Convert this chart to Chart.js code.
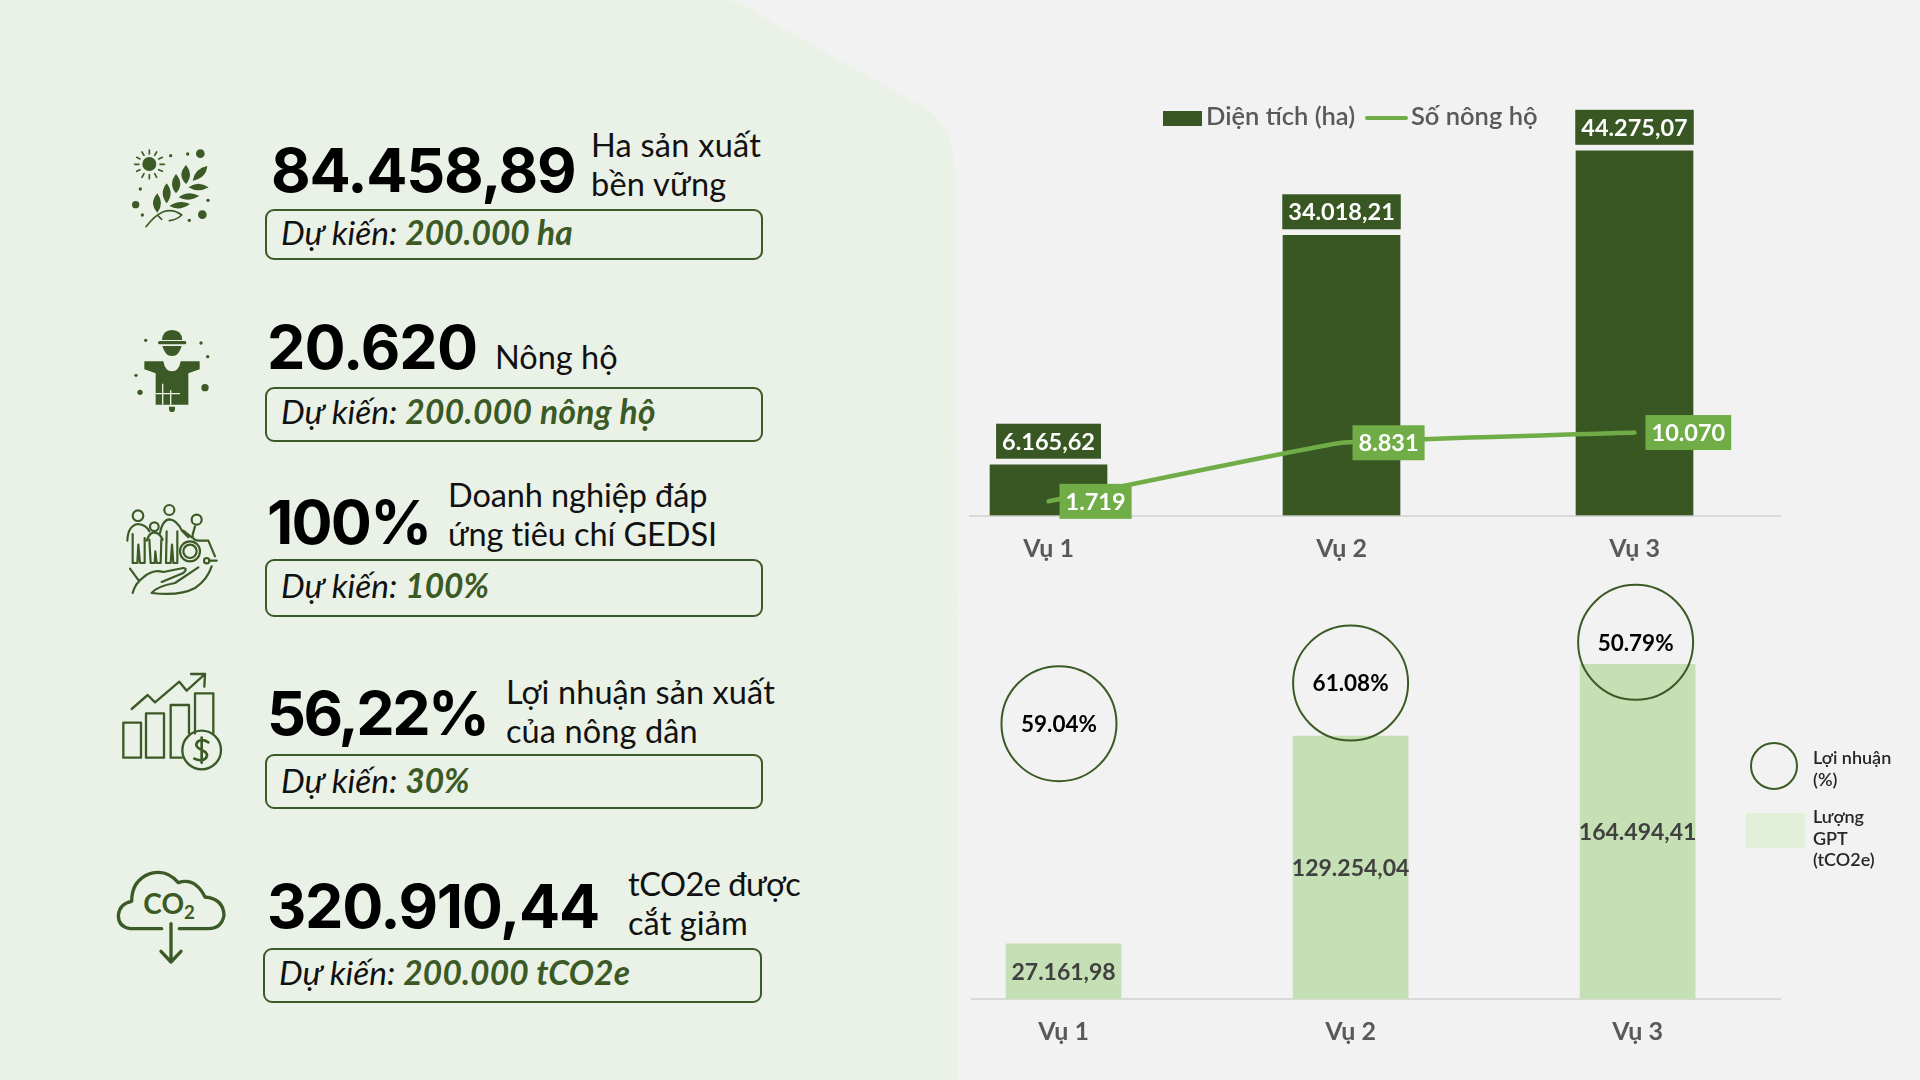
<!DOCTYPE html>
<html lang="vi"><head><meta charset="utf-8">
<script src="https://cdn.jsdelivr.net/npm/chart.js@4"></script>
<style>
html,body{margin:0;padding:0;width:1920px;height:1080px;overflow:hidden;background:#f2f2f2;font-family:Lato,"Noto Sans",sans-serif}
.abs{position:absolute;white-space:nowrap}
canvas{position:absolute}
.big{font-family:Inter,sans-serif;font-weight:700;font-size:61px;color:#000;line-height:70px;height:70px;letter-spacing:-1.3px}
.side{font-size:32.5px;color:#111;line-height:39px}
.box{border:2px solid #3b5a25;border-radius:9px;box-sizing:border-box;width:498px;left:265px}
.tgt{font-size:33.5px;font-style:italic;color:#111;line-height:36px;height:36px;left:281px}
.tgt b{color:#3b5a25;font-weight:700}
.lg{color:#595959;font-size:25.5px;font-weight:600;line-height:30px}
.lg2{color:#262626;font-size:18px;font-weight:600;line-height:21.5px}
</style></head><body>
<svg class="abs" style="left:0;top:0" width="1920" height="1080" viewBox="0 0 1920 1080"><path d="M0,0H728Q745,3 760,15L925,108Q945,122 950,140Q956,160 956,190L958,1080H0Z" fill="#eaf2e7"/></svg>

<div class="abs big" style="left:271px;top:135px">84.458,89</div>
<div class="abs side" style="left:591px;top:125px;letter-spacing:.25px">Ha sản xuất<br>bền vững</div>
<div class="abs box" style="top:209px;height:51px"></div>
<div class="abs tgt" style="top:214px">Dự kiến: <b>200.000 ha</b></div>

<div class="abs big" style="left:267px;top:312px;letter-spacing:-.9px">20.620</div>
<div class="abs side" style="left:495px;top:337px">Nông hộ</div>
<div class="abs box" style="top:387px;height:55px"></div>
<div class="abs tgt" style="top:393px">Dự kiến: <b style="letter-spacing:.35px">200.000 nông hộ</b></div>

<div class="abs big" style="left:267px;top:487px;letter-spacing:-1.8px">100%</div>
<div class="abs side" style="left:448px;top:475px;letter-spacing:-.1px">Doanh nghiệp đáp<br>ứng tiêu chí GEDSI</div>
<div class="abs box" style="top:559px;height:58px"></div>
<div class="abs tgt" style="top:567px">Dự kiến: <b>100%</b></div>

<div class="abs big" style="left:267px;top:678px;letter-spacing:-2.6px">56,22%</div>
<div class="abs side" style="left:506px;top:672px;letter-spacing:.1px">Lợi nhuận sản xuất<br>của nông dân</div>
<div class="abs box" style="top:754px;height:55px"></div>
<div class="abs tgt" style="top:762px">Dự kiến: <b>30%</b></div>

<div class="abs big" style="left:267px;top:871px">320.910,44</div>
<div class="abs side" style="left:628px;top:864px;letter-spacing:-.5px">tCO2e được<br><span style="letter-spacing:.1px">cắt giảm</span></div>
<div class="abs box" style="left:263px;width:499px;top:948px;height:55px"></div>
<div class="abs tgt" style="left:279px;top:954px">Dự kiến: <b style="letter-spacing:.15px">200.000 tCO2e</b></div>

<svg class="abs" style="left:120px;top:140px" width="100" height="100" viewBox="0 0 300 300" fill="#3b5a25">
<circle cx="88" cy="72" r="21"/><g stroke="#3b5a25" stroke-width="5" stroke-linecap="round"><path d="M88,30V42M66,36L72,46M110,36L104,46M50,52L60,57M127,52L116,57M44,73H57M120,73H133M50,94L60,89M127,94L116,89M66,112L72,101M110,112L104,101M88,116V104"/></g>
<circle cx="152" cy="47" r="5"/><circle cx="203" cy="42" r="5"/><circle cx="241" cy="41" r="13"/><circle cx="61" cy="147" r="5"/><circle cx="47" cy="194" r="11"/><circle cx="67" cy="225" r="5"/><circle cx="264" cy="181" r="5"/><circle cx="247" cy="224" r="13"/><circle cx="208" cy="241" r="5"/>
<path d="M112,218Q86,190 112,160Q134,190 112,218ZM140,190Q116,160 140,130Q164,160 140,190ZM168,160Q144,132 168,102Q194,132 168,160ZM198,132Q170,105 198,75Q222,105 198,132ZM218,122Q225,85 262,78Q258,115 218,122ZM205,142Q235,120 266,142Q235,160 205,142ZM176,172Q205,150 238,168Q205,188 176,172ZM148,198Q178,178 210,192Q178,215 148,198Z"/>
<path d="M78,260Q105,225 130,215Q160,205 185,225Q170,240 148,242M112,225L125,238" fill="none" stroke="#3b5a25" stroke-width="5" stroke-linecap="round"/></svg>

<svg class="abs" style="left:125px;top:322px" width="100" height="100" viewBox="0 0 300 300" fill="#3b5a25">
<path d="M111,54Q113,24 141,24Q170,24 172,54ZM112,72Q120,102 141,102Q162,102 170,72ZM58,118H115Q120,148 141,148Q162,148 167,118H224V142L190,154V248H92V154L58,142ZM132,254H150V260Q150,270 141,270Q132,270 132,260Z"/>
<path d="M104,62H179" stroke="#3b5a25" stroke-width="10" stroke-linecap="round"/>
<path d="M113,185V248M137,205V248M92,215H165" stroke="#eaf2e7" stroke-width="4" fill="none"/>
<circle cx="62" cy="55" r="5"/><circle cx="228" cy="63" r="5"/><circle cx="248" cy="104" r="5"/><circle cx="33" cy="160" r="5"/><circle cx="45" cy="211" r="8"/><circle cx="240" cy="197" r="11"/></svg>

<svg class="abs" style="left:120px;top:498px" width="100" height="100" viewBox="0 0 300 300" fill="none" stroke="#3b5a25" stroke-width="6.5" stroke-linecap="round" stroke-linejoin="round">
<circle cx="54" cy="53" r="16"/><circle cx="148" cy="36" r="15"/><circle cx="230" cy="65" r="15"/><circle cx="103" cy="86" r="13"/>
<path d="M22,128Q24,82 54,78Q78,80 88,100M38,108V195H52L55,140L60,195H74V120"/>
<path d="M80,128Q88,103 103,103Q120,105 128,125M88,125L92,195H104L106,160L110,195H122L124,125"/>
<path d="M120,105Q128,65 148,64Q170,65 186,98L205,118M140,100L138,195H152L156,140L160,195H172V100"/>
<circle cx="210" cy="160" r="30"/><circle cx="210" cy="160" r="20"/><circle cx="260" cy="188" r="8"/>
<path d="M225,85L218,110Q215,125 235,128H265L285,175M268,188H290M190,98L215,118"/>
<path d="M30,212L58,250M38,285Q46,255 70,238Q100,212 130,222L190,210Q205,212 190,225L125,252M235,208L165,255Q110,265 95,285Q180,295 225,270Q262,245 275,205"/></svg>

<svg class="abs" style="left:115px;top:670px" width="110" height="110" viewBox="0 0 330 330" fill="none" stroke="#3b5a25" stroke-width="7" stroke-linecap="round" stroke-linejoin="round">
<path d="M25,158H78V263H25ZM93,130H147V263H93ZM200,263H167V105H222V190M240,190V70H295V190"/>
<circle cx="260" cy="240" r="58"/>
<path d="M50,117L98,75L120,97L193,35L215,62L270,12M228,12H270L268,50"/>
<path d="M280,217Q262,205 248,215Q236,230 260,240Q284,250 272,265Q258,276 238,266M260,203V278" stroke-width="8"/></svg>

<svg class="abs" style="left:110px;top:862px" width="120" height="110" viewBox="0 0 360 330" fill="none" stroke="#3b5a25" stroke-width="10" stroke-linecap="round" stroke-linejoin="round">
<path d="M155,200H60Q25,195 25,160Q28,125 65,118Q65,55 120,35Q170,20 205,62Q255,45 285,105Q340,110 342,160Q335,200 295,200H208M183,185V300M153,268L183,300L213,268"/>
<text x="100" y="157" fill="#3b5a25" stroke="none" font-family="Lato" font-size="84" font-weight="700">CO<tspan dy="14" font-size="56">2</tspan></text></svg>

<canvas id="c1" width="830" height="470" style="left:960px;top:100px"></canvas>
<canvas id="c2" width="830" height="510" style="left:960px;top:570px"></canvas>

<div class="abs" style="left:1163px;top:111px;width:39px;height:15px;background:#385723"></div>
<div class="abs lg" style="left:1206px;top:100px">Diện tích (ha)</div>
<div class="abs" style="left:1365px;top:116px;width:43px;height:4px;border-radius:2px;background:#70ad47"></div>
<div class="abs lg" style="left:1411px;top:100px">Số nông hộ</div>

<div class="abs" style="left:1750px;top:742px;width:48px;height:48px;border:2px solid #3b5a25;border-radius:50%;box-sizing:border-box"></div>
<div class="abs lg2" style="left:1813px;top:747px">Lợi nhuận<br>(%)</div>
<div class="abs" style="left:1746px;top:813px;width:59px;height:35px;background:#e2f0d9"></div>
<div class="abs lg2" style="left:1813px;top:806px">Lượng<br>GPT<br>(tCO2e)</div>

<script>
const seasons = ["Vụ 1","Vụ 2","Vụ 3"];
const areaHa = [6165.62,34018.21,44275.07];
const households = [1719,8831,10070];
const ghgTons = [27161.98,129254.04,164494.41];
const profitPct = [59.04,61.08,50.79];
const profitHeight = [135300,155300,175300];
const profitX = [0.984,2,2.993];
const seasonX = [1,2,3];
const DARK="#385723",LINE="#70ad47",LIGHT="#c5e0b4";

function viNum(v,d){
  const [i,f]=v.toFixed(d).split(".");
  return i.replace(/\B(?=(\d{3})+$)/g,".")+(f?","+f:"");
}
function xAxis(min,max){
  return {type:"linear",min,max,offset:false,
    afterBuildTicks(a){a.ticks=seasonX.map(v=>({value:v}));},
    afterFit(a){a.height=54.5;},
    grid:{display:false,drawTicks:false},
    border:{display:true,color:"#d9d9d9",width:2},
    ticks:{color:"#595959",padding:18,autoSkip:false,maxRotation:0,
      font:{family:"Lato",size:25,weight:"700"},
      callback:v=>seasons[seasonX.indexOf(v)]||""}};
}
function tag(ctx,text,cx,cy,bg,fg){
  ctx.font="700 23.5px Lato";
  const w=ctx.measureText(text).width+12;
  ctx.fillStyle=bg;ctx.fillRect(cx-w/2,cy-17.5,w,35);
  ctx.fillStyle=fg;ctx.textAlign="center";ctx.textBaseline="middle";
  ctx.fillText(text,cx,cy+1);
  return w;
}
const labels1={id:"labels1",afterDatasetsDraw(ch){
  const c=ch.ctx,bars=ch.getDatasetMeta(1).data,pts=ch.getDatasetMeta(0).data;
  bars.forEach((b,i)=>tag(c,viNum(areaHa[i],2),b.x,b.y-23.5,DARK,"#fff"));
  pts.forEach((p,i)=>{
    c.font="700 23.5px Lato";
    const t=viNum(households[i],0),w=c.measureText(t).width+12;
    tag(c,t,p.x+11+w/2,p.y,LINE,"#fff");
  });
}};
const labels2={id:"labels2",afterDatasetsDraw(ch){
  const c=ch.ctx,bars=ch.getDatasetMeta(1).data,bub=ch.getDatasetMeta(0).data;
  c.textAlign="center";c.textBaseline="middle";
  c.font="700 23px Lato";c.fillStyle="#404040";
  bars.forEach((b,i)=>c.fillText(viNum(ghgTons[i],2),b.x,(b.y+b.base)/2+1));
  c.font="700 22.5px Lato";c.fillStyle="#000";
  bub.forEach((p,i)=>c.fillText(profitPct[i].toFixed(2)+"%",p.x,p.y+1));
}};
const base={responsive:false,animation:false,devicePixelRatio:1,
  plugins:{legend:{display:false},tooltip:{enabled:false}},events:[]};
new Chart(document.getElementById("c1"),{
  type:"bar",
  data:{datasets:[
    {type:"line",label:"Số nông hộ",data:households.map((v,i)=>({x:seasonX[i],y:v})),borderColor:LINE,borderWidth:4.5,pointRadius:0,tension:0.08,borderCapStyle:"round",order:0},
    {type:"bar",label:"Diện tích (ha)",data:areaHa.map((v,i)=>({x:seasonX[i],y:v})),backgroundColor:DARK,barThickness:117,order:1}
  ]},
  options:{...base,layout:{autoPadding:false,padding:{left:10,right:10,top:0,bottom:0}},
    scales:{x:xAxis(0.732,3.4966),y:{display:false,min:0,max:50440}}},
  plugins:[labels1]
});
new Chart(document.getElementById("c2"),{
  type:"bar",
  data:{datasets:[
    {type:"bubble",label:"Lợi nhuận (%)",data:profitPct.map((v,i)=>({x:profitX[i],y:profitHeight[i],r:57.5})),backgroundColor:"rgba(0,0,0,0)",borderColor:"#3b5a25",borderWidth:2,clip:false,order:0},
    {type:"bar",label:"Lượng GPT (tCO2e)",data:ghgTons.map((v,i)=>({x:seasonX[i],y:v})),backgroundColor:LIGHT,barThickness:115,order:1}
  ]},
  options:{...base,layout:{autoPadding:false,padding:{left:12,right:10,top:0,bottom:26.5}},
    scales:{x:xAxis(0.681,3.496),y:{display:false,min:0,max:210850}}},
  plugins:[labels2]
});
</script>
</body></html>
